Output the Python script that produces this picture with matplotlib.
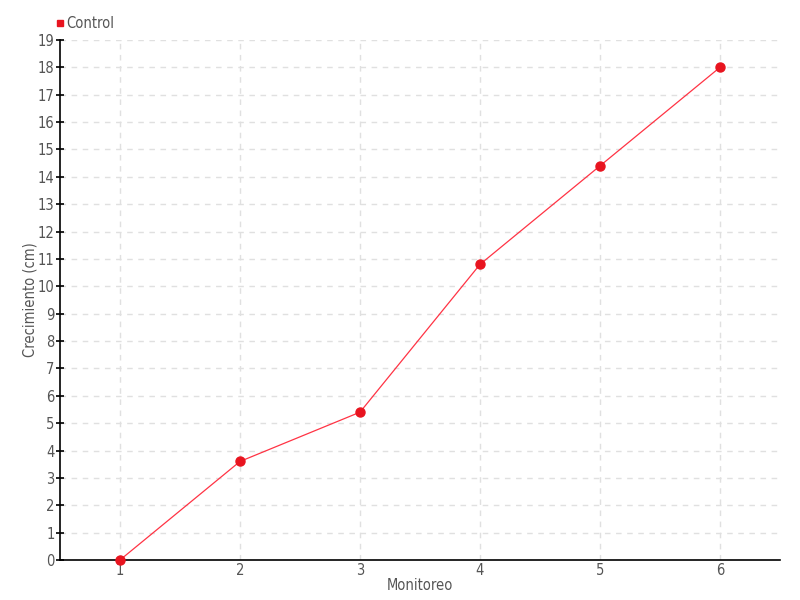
import matplotlib
matplotlib.use("Agg")
import matplotlib.pyplot as plt
from matplotlib.lines import Line2D

monitoreo = [1, 2, 3, 4, 5, 6]
crecimiento = [0, 3.6, 5.4, 10.8, 14.4, 18]
series_name = "Control"

plt.rcParams['font.family'] = ['DejaVu Sans']
plt.rcParams['font.stretch'] = 'condensed'
txt = '#555555'

fig = plt.figure(figsize=(8, 6), dpi=100)
ax = fig.add_axes([0.075, 0.0667, 0.9, 0.8667])
ax.plot(monitoreo, crecimiento, color='#ff3344', lw=0.9, zorder=3)
ax.plot(monitoreo, crecimiento, 'o', color='#e8141f', ms=6.5, zorder=4, clip_on=False)

ax.set_xlim(0.5, 6.5)
ax.set_ylim(0, 19)
ax.set_xticks(monitoreo)
ax.set_yticks(range(0, 20))
ax.grid(True, color='#e0e0e0', linestyle=(0, (4, 4)), lw=1)
ax.set_axisbelow(True)
for s in ['top', 'right']:
    ax.spines[s].set_visible(False)
for s in ['left', 'bottom']:
    ax.spines[s].set_color('black')
    ax.spines[s].set_linewidth(1.2)
ax.tick_params(axis='y', direction='inout', length=6, width=1.2, colors='black', labelcolor=txt, labelsize=10.5, pad=1)
ax.tick_params(axis='x', length=0, labelcolor=txt, labelsize=10.5, pad=2)
ax.set_xlabel('Monitoreo', color=txt, fontsize=10.5, labelpad=0)
ax.set_ylabel('Crecimiento (cm)', color=txt, fontsize=10.5, labelpad=0)

handle = Line2D([], [], marker='s', color='#e8141f', linestyle='none', markersize=4.5)
fig.legend([handle], [series_name], loc='upper left', bbox_to_anchor=(0.057, 0.99),
           frameon=False, fontsize=10.5, handletextpad=0.1, handlelength=0.6,
           labelcolor=txt, borderpad=0.2)

fig.savefig('out.png', dpi=100)
